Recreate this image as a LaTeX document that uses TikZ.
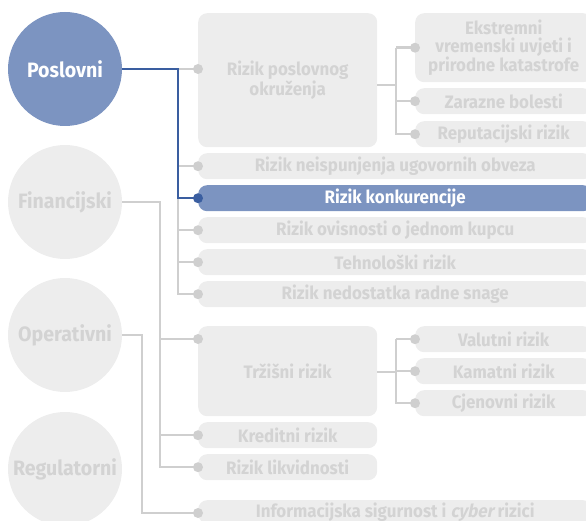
\documentclass[tikz,border=0pt]{standalone}
\usepackage{fontspec}
\setmainfont{Fira Sans}[FakeStretch=0.94]
\newfontfamily\slfont{Fira Sans}[FakeStretch=0.94,FakeSlant=0.2]
\definecolor{gfill}{HTML}{EDEDED}
\definecolor{gtext}{HTML}{D3D3D3}
\definecolor{gline}{HTML}{CFCFCF}
\definecolor{bfill}{HTML}{7C94C1}
\definecolor{bline}{HTML}{3A5EA0}
\tikzset{
  gbox/.style={fill=gfill, rounded corners=9pt, anchor=north west, inner sep=0pt, align=center, text=gtext, font=\fontsize{18}{18}\selectfont\bfseries},
  bbox/.style={gbox, fill=bfill, text=white},
  gcirc/.style={circle, fill=gfill, minimum size=114pt, inner sep=0pt, text=gtext, font=\fontsize{20.8}{21}\selectfont\bfseries},
  bcirc/.style={gcirc, fill=bfill, text=white},
  gdot/.style={circle, fill=gline, minimum size=10pt, inner sep=0pt},
  bdot/.style={gdot, fill=bline},
  gl/.style={draw=gline, line width=2.4pt},
  bl/.style={draw=bline, line width=2pt},
}
\begin{document}
\begin{tikzpicture}[x=1pt,y=-1pt]
\useasboundingbox (0,0) rectangle (586,521);
\clip (0,0) rectangle (586,521);
% circles
\node[bcirc] (pos) at (65,69) {Poslovni};
\node[gcirc] (fin) at (65,202) {Financijski};
\node[gcirc] (ope) at (65,335) {Operativni};
\node[gcirc] (reg) at (65,469) {Regulatorni};
% boxes
\node[gbox, minimum width=179pt, minimum height=134pt] (pok) at (198,13) {Rizik poslovnog\\okruženja};
\node[gbox, minimum width=177pt, minimum height=69pt] (ekst) at (415,13) {Ekstremni\\vremenski uvjeti i\\prirodne katastrofe};
\node[gbox, minimum width=177pt, minimum height=26pt] (zar) at (415,88) {Zarazne bolesti};
\node[gbox, minimum width=177pt, minimum height=26pt] (rep) at (415,121) {Reputacijski rizik};
\node[gbox, minimum width=394pt, minimum height=26pt] (neis) at (198,153) {Rizik neispunjenja ugovornih obveza};
\node[bbox, minimum width=394pt, minimum height=26pt] (konk) at (198,185) {Rizik konkurencije};
\node[gbox, minimum width=394pt, minimum height=26pt] (ovis) at (198,217) {Rizik ovisnosti o jednom kupcu};
\node[gbox, minimum width=394pt, minimum height=26pt] (teh) at (198,249) {Tehnološki rizik};
\node[gbox, minimum width=394pt, minimum height=26pt] (ned) at (198,281) {Rizik nedostatka radne snage};
\node[gbox, minimum width=179pt, minimum height=90pt] (trz) at (198,326) {Tržišni rizik};
\node[gbox, minimum width=177pt, minimum height=26pt] (val) at (415,326) {Valutni rizik};
\node[gbox, minimum width=177pt, minimum height=26pt] (kam) at (415,358) {Kamatni rizik};
\node[gbox, minimum width=177pt, minimum height=26pt] (cje) at (415,390) {Cjenovni rizik};
\node[gbox, minimum width=179pt, minimum height=26pt] (kre) at (198,422) {Kreditni rizik};
\node[gbox, minimum width=179pt, minimum height=26pt] (lik) at (198,454) {Rizik likvidnosti};
\node[gbox, minimum width=394pt, minimum height=23pt] (inf) at (198,500) {Informacijska sigurnost i {\slfont\bfseries cyber} rizici};
% junction coordinates
\coordinate (pj) at (178,69);
\coordinate (fj) at (160,202);
\coordinate (oj) at (142,335);
\coordinate (pokj) at (396,85);
\coordinate (trzj) at (396,372);
% dots
\coordinate (dpok) at (198,69);
\coordinate (dtrz) at (198,339);
\coordinate (dinf) at (198,513);
% gray connectors
\draw[gl] (pos.east) -- (pj) -- (dpok);
\draw[gl] (pj) |- (ned.west);
\draw[gl] (pj |- neis.west) -- (neis.west);
\draw[gl] (pj |- ovis.west) -- (ovis.west);
\draw[gl] (pj |- teh.west) -- (teh.west);
\draw[gl] (fin.east) -- (fj) |- (lik.west);
\draw[gl] (fj |- dtrz) -- (dtrz);
\draw[gl] (fj |- kre.west) -- (kre.west);
\draw[gl] (ope.east) -- (oj) |- (dinf);
\draw[gl] (pok.east |- pokj) -- (pokj);
\draw[gl] (pokj |- ekst.west) |- (rep.west);
\draw[gl] (pokj |- ekst.west) -- (ekst.west);
\draw[gl] (pokj |- zar.west) -- (zar.west);
\draw[gl] (trz.east |- trzj) -- (trzj);
\draw[gl] (trzj |- val.west) |- (cje.west);
\draw[gl] (trzj |- val.west) -- (val.west);
\draw[gl] (trzj |- kam.west) -- (kam.west);
% blue connector
\draw[bl] (pos.east) -- (pj) |- (konk.west);
% dots
\foreach \d in {dpok, neis.west, ovis.west, teh.west, ned.west, dtrz, kre.west, lik.west, dinf, ekst.west, zar.west, rep.west, val.west, kam.west, cje.west}
  \node[gdot] at (\d) {};
\node[bdot] (dkonk) at (konk.west) {};
\end{tikzpicture}
\end{document}
